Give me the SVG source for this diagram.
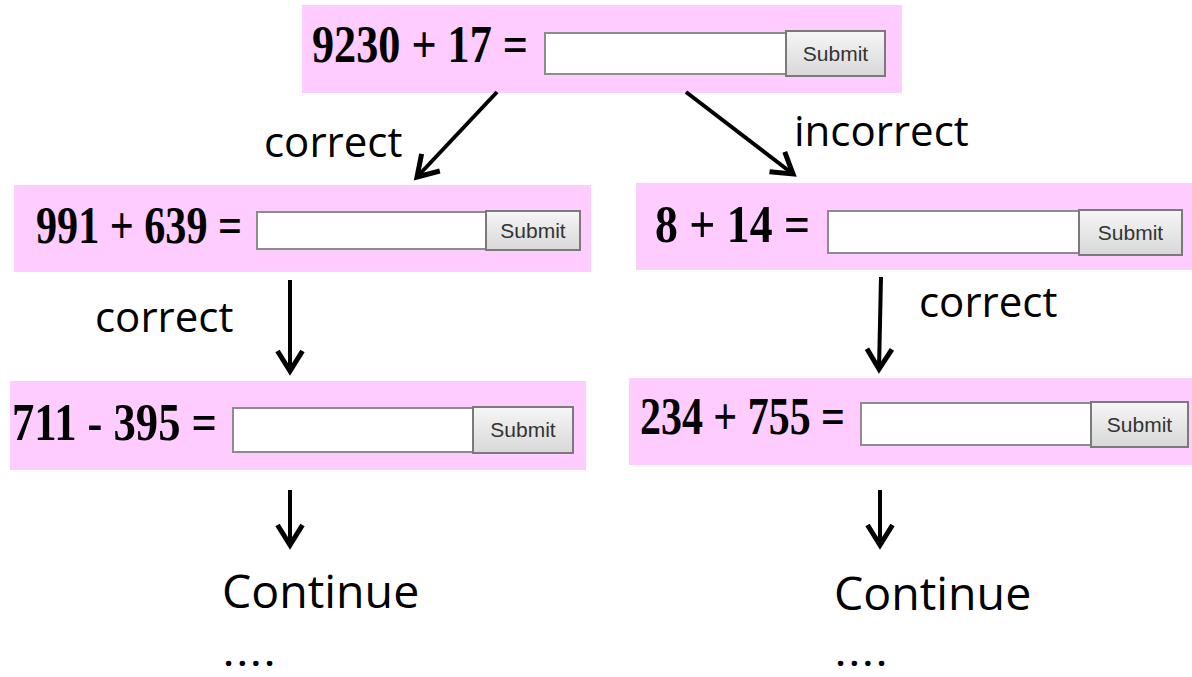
<svg xmlns="http://www.w3.org/2000/svg" width="1192" height="677" viewBox="0 0 1192 677">
<defs>
<linearGradient id="btn" x1="0" y1="0" x2="0" y2="1">
<stop offset="0" stop-color="#f6f6f6"/>
<stop offset="1" stop-color="#d8d8d8"/>
</linearGradient>
<marker id="ah" markerWidth="30" markerHeight="30" viewBox="-20 -12 24 24" refX="0" refY="0" orient="auto" markerUnits="userSpaceOnUse">
<polyline points="-16,-10 0,0 -16,10" fill="none" stroke="#000" stroke-width="4" stroke-linejoin="miter"/>
</marker>
</defs>
<style>
.bg{fill:#ffccff}
.inp{fill:#fff;stroke:#8c8c8c;stroke-width:2}
.btn{fill:url(#btn);stroke:#7a7a7a;stroke-width:2}
.bt{font-family:"Liberation Sans",Arial,sans-serif;font-size:21px;fill:#333;text-anchor:middle}
.eq{font-family:"Liberation Serif","Times New Roman",serif;font-weight:bold;font-size:52px;fill:#000}
.lbl{font-family:"Open Sans","Noto Sans",sans-serif;font-size:42px;fill:#000}
.big{font-family:"Open Sans","Noto Sans",sans-serif;font-size:46.5px;fill:#000}
.dots{font-family:"Open Sans","Noto Sans",sans-serif;font-size:32px;font-weight:bold;letter-spacing:4.5px;fill:#000}
.con{stroke:#000;stroke-width:4;fill:none;marker-end:url(#ah)}
</style>
<rect width="1192" height="677" fill="#fff"/>
<g id="q1">
<rect class="bg" x="302" y="5" width="600" height="88"/>
<text class="eq" x="312" y="62" textLength="216" lengthAdjust="spacingAndGlyphs">9230 + 17 =</text>
<rect class="inp" x="545" y="33" width="241" height="41"/>
<rect class="btn" x="786" y="31" width="99" height="45"/>
<text class="bt" x="835.5" y="61">Submit</text>
</g>
<g id="q2">
<rect class="bg" x="14" y="185" width="577" height="87"/>
<text class="eq" x="36" y="243" font-size="48" textLength="206" lengthAdjust="spacingAndGlyphs">991 + 639 =</text>
<rect class="inp" x="257" y="212" width="229" height="37"/>
<rect class="btn" x="486" y="211" width="94" height="39"/>
<text class="bt" x="533" y="238" font-size="19">Submit</text>
</g>
<g id="q3">
<rect class="bg" x="636" y="183" width="556" height="87"/>
<text class="eq" x="655" y="242" textLength="155" lengthAdjust="spacingAndGlyphs">8 + 14 =</text>
<rect class="inp" x="828" y="211" width="251" height="42"/>
<rect class="btn" x="1079" y="210" width="103" height="45"/>
<text class="bt" x="1130.5" y="240">Submit</text>
</g>
<g id="q4">
<rect class="bg" x="10" y="381" width="576" height="89"/>
<text class="eq" x="12" y="440" textLength="205" lengthAdjust="spacingAndGlyphs">711 - 395 =</text>
<rect class="inp" x="233" y="408" width="240" height="44"/>
<rect class="btn" x="473" y="407" width="100" height="46"/>
<text class="bt" x="523" y="437">Submit</text>
</g>
<g id="q5">
<rect class="bg" x="629" y="378" width="563" height="87"/>
<text class="eq" x="640" y="434" textLength="205" lengthAdjust="spacingAndGlyphs">234 + 755 =</text>
<rect class="inp" x="861" y="403" width="230" height="42"/>
<rect class="btn" x="1091" y="402" width="97" height="45"/>
<text class="bt" x="1139.5" y="432">Submit</text>
</g>
<g id="connectors">
<line class="con" x1="497" y1="92" x2="417" y2="177"/>
<line class="con" x1="686" y1="92" x2="793" y2="174"/>
<line class="con" x1="290" y1="280" x2="290" y2="371"/>
<line class="con" x1="881" y1="277" x2="879" y2="369"/>
<line class="con" x1="290" y1="490" x2="290" y2="545"/>
<line class="con" x1="880" y1="490" x2="880" y2="545"/>
</g>
<g id="labels">
<text class="lbl" x="264" y="157">correct</text>
<text class="lbl" x="794" y="146">incorrect</text>
<text class="lbl" x="95" y="332">correct</text>
<text class="lbl" x="919" y="317">correct</text>
<text class="big" x="222" y="608">Continue</text>
<text class="big" x="834" y="610">Continue</text>
<text class="dots" x="224" y="666">....</text>
<text class="dots" x="836" y="666">....</text>
</g>
</svg>
